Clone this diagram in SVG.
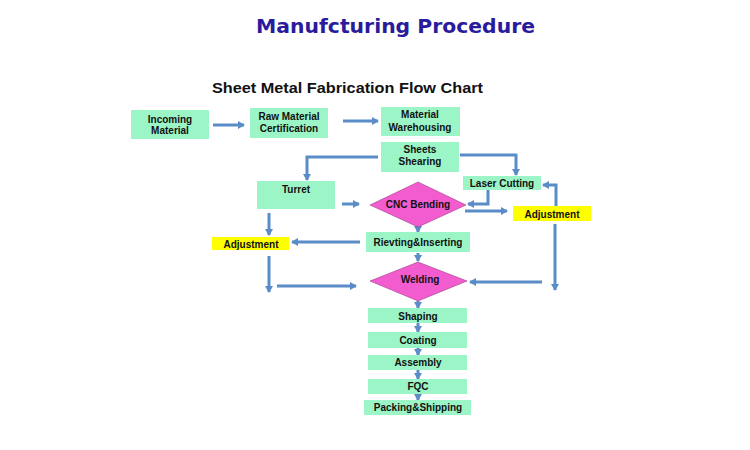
<svg xmlns="http://www.w3.org/2000/svg" width="750" height="450" viewBox="0 0 750 450">
<defs>
<style>
.box{fill:#9cf5c6;}
.adj{fill:#ffff00;}
.dia{fill:#f25ccf;stroke:#9a3e8c;stroke-width:0.6;}
.t{font-family:"Liberation Sans",Arial,sans-serif;font-weight:bold;font-size:10px;fill:#111;text-anchor:middle;}
.c{fill:none;stroke:#5a8cc8;stroke-width:3;marker-end:url(#ah);}
</style>
<marker id="ah" markerUnits="userSpaceOnUse" markerWidth="7" markerHeight="8" refX="6" refY="4" orient="auto">
<path d="M0,0 L7,4 L0,8 z" fill="#5a8cc8"/>
</marker>
</defs>
<rect width="750" height="450" fill="#ffffff"/>
<text x="256" y="33" font-family="DejaVu Sans,Verdana,sans-serif" font-weight="bold" font-size="20" fill="#2a1b9c" textLength="279" lengthAdjust="spacingAndGlyphs">Manufcturing Procedure</text>
<text x="212" y="93" font-family="Liberation Sans,Arial,sans-serif" font-weight="bold" font-size="14" fill="#111" textLength="271" lengthAdjust="spacingAndGlyphs">Sheet Metal Fabrication Flow Chart</text>

<g id="connectors">
<path class="c" d="M213,125 H244"/>
<path class="c" d="M343,121 H378"/>
<path class="c" d="M378,157 H307 V180"/>
<path class="c" d="M460,155 H516 V175"/>
<path class="c" d="M342,204 H359"/>
<path class="c" d="M488,190 V204 H468"/>
<path class="c" d="M465,211 H507"/>
<path class="c" d="M556,206 V185 H543"/>
<path class="c" d="M555,224 V290"/>
<path class="c" d="M542,282 H470"/>
<path class="c" d="M269,213 V235"/>
<path class="c" d="M360,242 H292"/>
<path class="c" d="M269,256 V292"/>
<path class="c" d="M277,286 H356"/>
<path class="c" d="M418,226 V232"/>
<path class="c" d="M418,253 V261"/>
<path class="c" d="M418,301 V308"/>
<path class="c" d="M418,323 V332"/>
<path class="c" d="M418,348 V355"/>
<path class="c" d="M418,370 V379"/>
<path class="c" d="M418,394 V400"/>
</g>

<g id="incoming"><rect class="box" x="131" y="110" width="78" height="29"/><text class="t" x="170" y="122.5">Incoming</text><text class="t" x="170" y="134">Material</text></g>
<g id="rawcert"><rect class="box" x="250" y="108" width="78" height="30"/><text class="t" x="289" y="120">Raw Material</text><text class="t" x="289" y="132">Certification</text></g>
<g id="warehousing"><rect class="box" x="381" y="107" width="79" height="29"/><text class="t" x="420" y="118">Material</text><text class="t" x="420" y="130.5">Warehousing</text></g>
<g id="shearing"><rect class="box" x="381" y="142" width="78" height="30"/><text class="t" x="420" y="153">Sheets</text><text class="t" x="420" y="165">Shearing</text></g>
<g id="turret"><rect class="box" x="257" y="181" width="78" height="28"/><text class="t" x="296" y="192.5">Turret</text></g>
<g id="laser"><rect class="box" x="463" y="176" width="78" height="14"/><text class="t" x="502" y="187">Laser Cutting</text></g>
<g id="cnc"><polygon class="dia" points="418,182 466,205 418,227 370,205"/><text class="t" x="418" y="208">CNC Bending</text></g>
<g id="adjright"><rect class="adj" x="513" y="206" width="78" height="15"/><text class="t" x="552" y="217.5">Adjustment</text></g>
<g id="rivet"><rect class="box" x="366" y="232" width="104" height="20"/><text class="t" x="418" y="245.5">Rievting&amp;Inserting</text></g>
<g id="adjleft"><rect class="adj" x="212" y="237" width="77" height="13"/><text class="t" x="251" y="247.5">Adjustment</text></g>
<g id="welding"><polygon class="dia" points="418,262 467,281 418,301 370,281"/><text class="t" x="420" y="283">Welding</text></g>
<g id="shaping"><rect class="box" x="368" y="308" width="99" height="15"/><text class="t" x="418" y="319.5">Shaping</text></g>
<g id="coating"><rect class="box" x="368" y="332" width="99" height="16"/><text class="t" x="418" y="344">Coating</text></g>
<g id="assembly"><rect class="box" x="368" y="355" width="99" height="15"/><text class="t" x="418" y="365.5">Assembly</text></g>
<g id="fqc"><rect class="box" x="368" y="379" width="99" height="15"/><text class="t" x="418" y="390">FQC</text></g>
<g id="packing"><rect class="box" x="364" y="400" width="107" height="15"/><text class="t" x="418" y="410.5">Packing&amp;Shipping</text></g>
</svg>
